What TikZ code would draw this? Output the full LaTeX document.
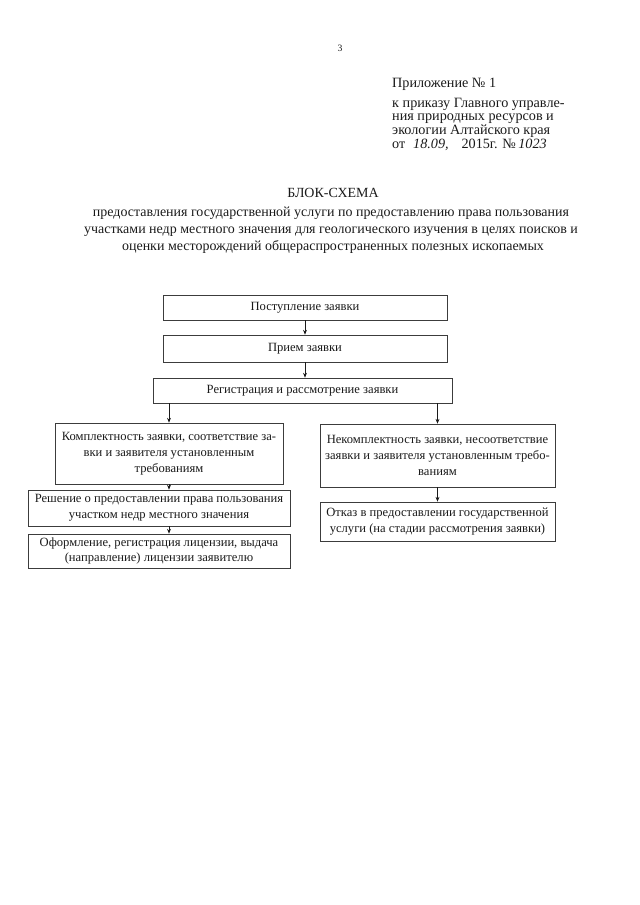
\documentclass[tikz,border=0pt]{standalone}
\usepackage{fontspec}
\setmainfont{Liberation Serif}
\usepackage{tikz}
\usetikzlibrary{arrows.meta}
\definecolor{Ink}{HTML}{1A1A1A}
\definecolor{Frame}{HTML}{3C3C3C}

\begin{document}
\begin{tikzpicture}[x=0.93pt,y=-0.93pt,>={Stealth[length=4.5pt,width=3.6pt]},
  box/.style={draw=Frame,line width=0.6pt,align=center,inner sep=0pt,text=Ink,
    font=\fontsize{11.7}{14.8}\selectfont},
  head/.style={anchor=base west,inner sep=0pt,text=Ink,font=\fontsize{13.2}{13}\selectfont},
  title/.style={anchor=base,inner sep=0pt,text=Ink,font=\fontsize{13}{13}\selectfont},
  link/.style={draw=Ink,line width=0.6pt,->}]
  \useasboundingbox (0,0) rectangle (640,905);
  \node[inner sep=0pt,text=Ink,font=\fontsize{9}{9}\selectfont] (pagenum) at (340,48) {3};
  \node[head] (appx) at (392,87) {Приложение № 1};
  \node[head] (order1) at (392,107) {к приказу Главного управле-};
  \node[head] (order2) at (392,120.5) {ния природных ресурсов и};
  \node[head] (order3) at (392,134) {экологии Алтайского края};
  \node[head] (order4) at (392,148) {от \hspace{4pt}{\itshape 18.09,}\hspace{12pt}2015г. №\,{\itshape 1023}};
  \node[title] (caption) at (333,197) {БЛОК-СХЕМА};
  \node[title] (sub1) at (331,216) {предоставления государственной услуги по предоставлению права пользования};
  \node[title] (sub2) at (331,233) {участками недр местного значения для геологического изучения в целях поисков и};
  \node[title] (sub3) at (333,250) {оценки месторождений общераспространенных полезных ископаемых};
  \node[box,minimum width=264pt,minimum height=23.3pt] (arrival) at (305,307.5) {Поступление заявки};
  \node[box,minimum width=264pt,minimum height=25.1pt] (intake) at (305,348.5) {Прием заявки};
  \node[box,minimum width=278pt,minimum height=23.3pt] (review) at (302.5,390.5) {Регистрация и рассмотрение заявки};
  \node[box,minimum width=212pt,minimum height=56.7pt] (complete) at (169,453.5)
    {Комплектность заявки, соответствие за-\\вки и заявителя установленным\\требованиям};
  \node[box,minimum width=218.6pt,minimum height=58.6pt] (incomplete) at (437.5,455.5)
    {Некомплектность заявки, несоответствие\\заявки и заявителя установленным требо-\\ваниям};
  \node[box,minimum width=243.7pt,minimum height=33.5pt] (decision) at (159,508)
    {Решение о предоставлении права пользования\\участком недр местного значения};
  \node[box,minimum width=243.7pt,minimum height=31.6pt] (license) at (159,551)
    {Оформление, регистрация лицензии, выдача\\(направление) лицензии заявителю};
  \node[box,minimum width=218.6pt,minimum height=36.3pt] (refusal) at (437.5,521.5)
    {Отказ в предоставлении государственной\\услуги (на стадии рассмотрения заявки)};
  \draw[link] (arrival) -- (intake);
  \draw[link] (intake) -- (intake |- review.north);
  \draw[link] (review.south -| complete) -- (complete);
  \draw[link] (review.south -| incomplete) -- (incomplete);
  \draw[link] (complete.south) -- (complete.south |- decision.north);
  \draw[link] (complete.south |- decision.south) -- (complete.south |- license.north);
  \draw[link] (incomplete) -- (refusal);
\end{tikzpicture}
\end{document}
